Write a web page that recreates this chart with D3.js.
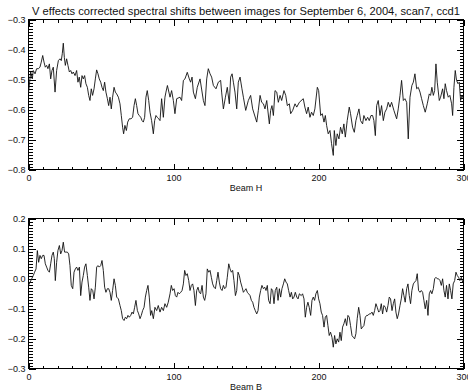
<!DOCTYPE html>
<html>
<head>
<meta charset="utf-8">
<script src="https://cdn.jsdelivr.net/npm/d3@7"></script>
<style>
  body { margin: 0; background: #fff; }
  svg { display: block; }
  text { font-family: "Liberation Sans", Arial, sans-serif; fill: #111; }
</style>
</head>
<body>
<div id="chart"></div>
<script>
const titleText = "V effects corrected spectral shifts between images for September 6, 2004, scan7, ccd1";
const xMajor = [0, 100, 200, 300];
const xMinor = d3.range(0, 301, 10);

// [beam index, shift]
const beamH = [[0,-0.545],[1.5,-0.475],[2.6,-0.498],[3.3,-0.470],[4.5,-0.481],[5.6,-0.464],[6.8,-0.464],[7.9,-0.459],[8.8,-0.442],[9.8,-0.420],[10.7,-0.442],[11.6,-0.459],[12.5,-0.453],[13.4,-0.464],[14.4,-0.448],[15.3,-0.498],[16.2,-0.470],[17.1,-0.459],[18.3,-0.542],[19.4,-0.470],[20.6,-0.437],[21.7,-0.431],[22.6,-0.437],[23.3,-0.414],[24,-0.379],[24.7,-0.426],[25.4,-0.453],[26.3,-0.431],[27.2,-0.453],[28.2,-0.475],[29.1,-0.470],[30,-0.481],[30.9,-0.475],[32.1,-0.487],[33.2,-0.470],[34.1,-0.509],[35,-0.492],[36,-0.526],[36.9,-0.487],[37.8,-0.498],[38.7,-0.487],[39.6,-0.514],[40.6,-0.526],[41.5,-0.553],[42.4,-0.570],[43.3,-0.531],[44.2,-0.553],[45.2,-0.531],[46.1,-0.498],[47,-0.468],[47.9,-0.481],[48.8,-0.498],[49.8,-0.509],[50.7,-0.526],[51.6,-0.537],[52.5,-0.509],[53.4,-0.542],[54.4,-0.564],[55.3,-0.587],[56.2,-0.559],[57.1,-0.598],[58,-0.559],[59,-0.526],[59.9,-0.542],[60.8,-0.548],[62,-0.559],[63.1,-0.581],[64,-0.620],[64.9,-0.659],[65.6,-0.681],[66.5,-0.653],[67.5,-0.670],[68.4,-0.642],[69.5,-0.631],[70.7,-0.631],[71.8,-0.626],[72.8,-0.587],[73.7,-0.564],[74.6,-0.587],[75.5,-0.614],[76.4,-0.620],[77.4,-0.626],[78.3,-0.637],[79.2,-0.642],[80.1,-0.626],[81,-0.559],[81.9,-0.537],[82.9,-0.570],[83.8,-0.609],[84.9,-0.637],[86.1,-0.681],[87,-0.637],[87.9,-0.620],[88.8,-0.626],[89.8,-0.631],[90.7,-0.637],
[91.8,-0.564],[93,-0.626],[94.1,-0.559],[94.8,-0.542],[95.8,-0.520],[97.6,-0.559],[98.7,-0.537],[99.9,-0.570],[101,-0.614],[102.2,-0.564],[104.5,-0.559],[105.6,-0.570],[106.8,-0.503],[107.9,-0.498],[109.5,-0.476],[110.9,-0.498],[111.8,-0.509],[112.8,-0.492],[113.7,-0.542],[115.1,-0.564],[116.4,-0.526],[118.3,-0.498],[120.6,-0.570],[121.7,-0.587],[122.9,-0.498],[124,-0.464],[125.2,-0.481],[126.3,-0.492],[127.5,-0.520],[129.3,-0.531],[130.9,-0.509],[132.5,-0.503],[133.2,-0.542],[134.4,-0.598],[135.8,-0.559],[137.1,-0.526],[138.5,-0.581],[139.4,-0.492],[140.4,-0.481],[141.3,-0.509],[142.4,-0.542],[143.6,-0.598],[144.7,-0.509],[145.9,-0.492],[147.2,-0.531],[148.2,-0.559],[149.8,-0.603],[151.6,-0.570],[153.2,-0.553],[154.6,-0.598],[157.4,-0.642],[158.5,-0.603],[159.7,-0.553],[160.8,-0.576],[162,-0.581],[163.1,-0.598],[164.3,-0.570],[166.1,-0.648],[167,-0.603],[167.9,-0.587],[168.9,-0.620],[170,-0.537],[171.2,-0.542],[172.3,-0.576],[173.5,-0.553],[174.6,-0.570],[176.2,-0.537],[177.4,-0.553],[178.5,-0.587],[179.9,-0.581],[180.8,-0.614],[182.2,-0.603],[183.8,-0.581],[185,-0.592],[186.8,-0.576],
[189.5,-0.564],[190.6,-0.592],[191.8,-0.614],[192.9,-0.592],[194.1,-0.626],[195.2,-0.609],[196.4,-0.620],[197.5,-0.598],[199.2,-0.526],[200.1,-0.537],[201.5,-0.620],[202.6,-0.614],[203.8,-0.642],[204.7,-0.620],[205.6,-0.653],[206.7,-0.681],[207.9,-0.670],[209,-0.714],[210.2,-0.753],[210.9,-0.670],[212,-0.720],[212.9,-0.681],[214.1,-0.698],[215.2,-0.659],[216.4,-0.681],[217.5,-0.648],[218.5,-0.692],[219.8,-0.637],[221.2,-0.592],[222.1,-0.614],[223.5,-0.659],[224.7,-0.676],[225.8,-0.637],[226.7,-0.620],[227.9,-0.598],[229,-0.637],[230.4,-0.648],[231.3,-0.620],[232.7,-0.637],[233.9,-0.626],[235,-0.637],[236.2,-0.620],[237.3,-0.620],[238.2,-0.637],[239.2,-0.687],[240.1,-0.587],[241.2,-0.570],[242.4,-0.620],[243.5,-0.587],[244.7,-0.637],[245.8,-0.609],[247,-0.598],[248.1,-0.576],[249.3,-0.592],[250.4,-0.576],[252,-0.603],[253.9,-0.631],[255,-0.598],[256.2,-0.553],[257.3,-0.503],[258.5,-0.570],[259.6,-0.564],[260.8,-0.576],[261.9,-0.698],[263.1,-0.559],[264.4,-0.520],[265.4,-0.509],[266.5,-0.481],[267.7,-0.531],[268.8,-0.526],[270,-0.542],[271.1,-0.564],[272.3,-0.587],[273.6,-0.609],[275,-0.581],[276.4,-0.548],[277.3,-0.553],[278.2,-0.526],[279.2,-0.553],[280.1,-0.537],[281,-0.448],[281.9,-0.509],[283.3,-0.570],[284.2,-0.559],[285.6,-0.531],[286.5,-0.564],[287.4,-0.514],[288.3,-0.537],[289.5,-0.559],[290.6,-0.553],[291.8,-0.581],[292.5,-0.620],[293.4,-0.526],[294.3,-0.470],[295.2,-0.503],[296.2,-0.514],[297.1,-0.509],[298,-0.570],[298.9,-0.553],[300,-0.564]];

const beamB = [[0,-0.023],[2.2,-0.001],[3.3,0.010],[4.2,0.021],[5.2,0.032],[6.1,0.093],[7.0,0.054],[7.9,0.077],[8.8,0.066],[9.8,0.077],[10.7,0.077],[11.6,0.049],[12.5,0.038],[13.4,0.027],[14.4,0.021],[15.3,0.049],[16.2,0.077],[17.1,0.088],[17.8,0.066],[18.5,-0.007],[19.4,0.054],[20.3,0.093],[21.3,0.110],[22.2,0.082],[23.1,0.093],[24.0,0.121],[24.9,0.088],[25.9,0.088],[26.8,0.088],[27.7,0.082],[28.6,0.043],[29.5,-0.023],[30.5,-0.034],[31.4,0.021],[32.3,0.032],[33.2,0.038],[34.1,0.027],[35.1,0.038],[36.0,-0.057],[36.9,-0.012],[37.8,0.010],[38.7,0.038],[39.6,0.049],[40.6,0.010],[41.5,-0.029],[42.4,-0.073],[43.3,-0.034],[44.3,-0.040],[45.2,-0.068],[46.1,-0.029],[47.0,0.038],[47.9,0.043],[48.8,0.038],[49.8,0.043],[50.7,0.060],[51.6,0.027],[52.5,-0.029],[53.4,-0.046],[54.4,-0.034],[55.3,-0.034],[56.2,-0.046],[57.1,-0.073],[58.0,-0.040],[59.0,-0.001],[59.9,-0.023],[60.8,-0.062],[62.0,-0.068],[63.1,-0.090],[64.0,-0.107],[64.9,-0.134],[65.9,-0.140],[66.8,-0.129],[67.7,-0.134],[68.6,-0.123],[69.5,-0.129],[70.5,-0.123],[71.4,-0.112],[72.3,-0.118],[73.2,-0.096],[74.1,-0.073],[75.1,-0.107],[76.0,-0.118],[76.9,-0.134],[77.8,-0.123],[78.7,-0.107],[79.7,-0.096],[80.6,-0.062],[81.5,-0.040],[82.4,-0.023],[83.3,-0.062],[84.2,-0.123],
[85.0,-0.107],[86.1,-0.134],[87.2,-0.096],[88.4,-0.107],[89.5,-0.090],[90.7,-0.112],[91.8,-0.096],[93.0,-0.107],[94.1,-0.084],[95.3,-0.096],[96.4,-0.079],[97.6,-0.051],[98.5,-0.023],[99.4,-0.040],[100.4,-0.034],[101.3,-0.057],[102.2,-0.062],[103.1,-0.046],[104.0,-0.051],[105.0,-0.046],[105.9,-0.040],[106.8,-0.018],[107.7,0.027],[108.6,0.010],[109.5,0.016],[110.5,-0.007],[111.4,-0.040],[112.3,-0.023],[113.2,-0.018],[114.1,-0.040],[115.1,-0.090],[116.0,-0.040],[116.9,-0.029],[117.8,-0.046],[118.7,-0.051],[119.7,-0.023],[120.6,-0.062],[121.5,-0.073],[122.4,-0.051],[123.3,0.032],[124.3,0.021],[125.2,0.027],[126.1,0.004],[127.0,-0.018],[127.9,-0.029],[128.9,-0.034],[129.8,-0.007],[130.7,0.021],[131.6,-0.012],[132.5,-0.034],[133.5,-0.040],[134.4,-0.023],[135.3,-0.034],[136.2,-0.029],[137.1,0.004],[138.1,0.049],[139.0,0.032],[139.9,0.021],[140.8,0.027],[141.7,-0.007],[142.7,-0.057],[143.6,-0.040],[144.5,0.021],[145.4,0.010],[146.3,-0.012],[147.3,-0.029],[148.2,-0.046],[149.1,-0.040],[150.0,-0.034],[150.9,-0.046],[151.8,-0.051],[152.8,-0.057],[153.7,-0.073],[154.6,-0.079],[155.5,-0.096],[156.4,-0.107],[157.4,-0.118],[158.3,-0.107],[159.2,-0.062],[160.1,-0.040],[161.0,-0.023],[162.0,-0.034],[162.9,-0.029],[163.8,-0.040],[164.7,-0.023],[165.6,-0.073],[166.6,-0.084],[167.5,-0.034],[168.4,-0.040],[169.3,-0.084],[170.2,-0.040],[171.2,-0.029],[172.1,-0.073],[173.0,-0.034],[173.9,-0.062],[174.8,-0.034],[175.8,-0.018],[176.7,-0.001],[177.6,-0.012],[178.5,-0.018],[179.4,-0.040],[180.4,-0.062],[181.3,-0.046],[182.2,-0.068],[183.1,-0.062],[184.0,-0.046],[185.0,-0.062],[185.9,-0.068],[186.8,-0.051],
[188.1,-0.057],[189.0,-0.051],[190.0,-0.068],[190.9,-0.129],[191.8,-0.096],[192.7,-0.079],[193.6,-0.096],[194.6,-0.123],[195.5,-0.073],[196.4,-0.062],[197.3,-0.073],[198.2,-0.051],[199.2,-0.040],[200.1,-0.068],[201.0,-0.084],[201.9,-0.112],[202.8,-0.123],[203.8,-0.162],[204.7,-0.129],[205.6,-0.123],[206.5,-0.157],[207.4,-0.190],[208.3,-0.179],[209.3,-0.196],[210.2,-0.229],[211.1,-0.190],[212.0,-0.218],[212.9,-0.201],[213.9,-0.212],[214.8,-0.179],[215.7,-0.207],[216.6,-0.162],[217.5,-0.151],[218.5,-0.134],[219.4,-0.157],[220.3,-0.123],[221.2,-0.129],[222.1,-0.157],[223.1,-0.190],[224.0,-0.196],[224.9,-0.201],[225.8,-0.184],[226.7,-0.134],[227.7,-0.096],[228.6,-0.123],[229.5,-0.168],[230.4,-0.162],[231.3,-0.157],[232.3,-0.129],[233.2,-0.123],[234.1,-0.123],[235.0,-0.118],[235.9,-0.118],[236.9,-0.112],[237.8,-0.123],[238.7,-0.107],[239.6,-0.084],[240.5,-0.096],[241.5,-0.112],[242.4,-0.107],[243.3,-0.084],[244.2,-0.118],[245.1,-0.090],[246.1,-0.096],[247.0,-0.112],[247.9,-0.090],[248.8,-0.062],[249.7,-0.068],[250.7,-0.107],[251.6,-0.084],[252.5,-0.068],[253.4,-0.112],[254.3,-0.134],[255.2,-0.118],[256.2,-0.090],[257.1,-0.068],[258.0,-0.034],[258.9,-0.057],[259.8,-0.079],[260.8,-0.034],[261.7,-0.018],[262.6,-0.057],[263.5,-0.084],[264.4,-0.040],[265.4,-0.018],[266.3,-0.012],[267.2,-0.007],[268.1,0.016],[269.0,-0.040],[270.0,-0.046],[270.9,-0.040],[271.8,-0.046],[272.7,-0.073],[273.6,-0.101],[274.6,-0.073],[275.5,-0.123],[276.4,-0.051],[277.3,-0.040],[278.2,-0.051],[279.2,-0.034],[280.1,-0.001],[281.0,0.004],[281.9,-0.001],[282.8,-0.001],[283.8,-0.007],[284.7,-0.023],[285.6,-0.001],[286.5,-0.040],[287.4,-0.062],[288.3,-0.023],[289.3,-0.068],[290.2,-0.018],[291.1,-0.040],[292.0,-0.068],[292.9,-0.018],[293.9,-0.007],[294.8,0.021],[295.7,0.010],[296.6,0.004],[297.5,-0.007],[298.5,0.004],[299.4,-0.012],[300,-0.007]];

const hMajor = [-0.8, -0.7, -0.6, -0.5, -0.4, -0.3];
const hMinor = d3.range(-80, -29).map(v => v / 100);
const bMajor = [-0.3, -0.2, -0.1, 0.0, 0.1, 0.2];
const bMinor = d3.range(-30, 21).map(v => v / 100);

const width = 468, height = 392;
const left = 28.5, right = 463.5, ph = 150;

const panels = [
  { label: "Beam H", data: beamH, domain: [-0.8, -0.3], major: hMajor, minor: hMinor, top: 19.5 },
  { label: "Beam B", data: beamB, domain: [-0.3, 0.2], major: bMajor, minor: bMinor, top: 218.5 }
];

const svg = d3.select("#chart").append("svg")
  .attr("width", width)
  .attr("height", height);

svg.append("text")
  .attr("x", (left + right) / 2)
  .attr("y", 15)
  .attr("text-anchor", "middle")
  .style("font-size", "11px")
  .attr("textLength", 428)
  .attr("lengthAdjust", "spacingAndGlyphs")
  .text(titleText);

const x = d3.scaleLinear().domain([0, 300]).range([left, right]);
const fmt = d3.format(".1f");

function noDomain(g) { g.select(".domain").remove(); }

panels.forEach(p => {
  const bottom = p.top + ph;
  const y = d3.scaleLinear().domain(p.domain).range([bottom, p.top]);
  const g = svg.append("g").attr("shape-rendering", "crispEdges");

  // x minor + major ticks, bottom and top, pointing inwards
  g.append("g").attr("transform", `translate(0,${bottom})`)
    .call(d3.axisBottom(x).tickValues(xMinor).tickSize(-3).tickFormat(""))
    .call(noDomain);
  g.append("g").attr("transform", `translate(0,${p.top})`)
    .call(d3.axisTop(x).tickValues(xMinor).tickSize(-3).tickFormat(""))
    .call(noDomain);
  g.append("g").attr("transform", `translate(0,${p.top})`)
    .call(d3.axisTop(x).tickValues(xMajor).tickSize(-6).tickFormat(""))
    .call(noDomain);
  g.append("g").attr("transform", `translate(0,${bottom})`)
    .call(d3.axisBottom(x).tickValues(xMajor).tickSize(-6).tickPadding(5).tickFormat(d3.format("d")))
    .call(noDomain)
    .attr("font-size", 9);

  // y minor + major ticks, left and right
  g.append("g").attr("transform", `translate(${left},0)`)
    .call(d3.axisLeft(y).tickValues(p.minor).tickSize(-4).tickFormat(""))
    .call(noDomain);
  g.append("g").attr("transform", `translate(${right},0)`)
    .call(d3.axisRight(y).tickValues(p.minor).tickSize(-4).tickFormat(""))
    .call(noDomain);
  g.append("g").attr("transform", `translate(${right},0)`)
    .call(d3.axisRight(y).tickValues(p.major).tickSize(-7).tickFormat(""))
    .call(noDomain);
  g.append("g").attr("transform", `translate(${left},0)`)
    .call(d3.axisLeft(y).tickValues(p.major).tickSize(-7).tickPadding(3).tickFormat(fmt))
    .call(noDomain)
    .attr("font-size", 9);

  g.append("rect")
    .attr("x", left).attr("y", p.top)
    .attr("width", right - left).attr("height", ph)
    .attr("fill", "none").attr("stroke", "#000");

  svg.append("text")
    .attr("x", (left + right) / 2)
    .attr("y", bottom + 21.5)
    .attr("text-anchor", "middle")
    .style("font-size", "9px")
    .text(p.label);

  const line = d3.line().x(d => x(d[0])).y(d => y(d[1]));
  svg.append("path")
    .datum(p.data)
    .attr("fill", "none")
    .attr("stroke", "#111")
    .attr("stroke-width", 0.9)
    .attr("d", line);
});
</script>
</body>
</html>
